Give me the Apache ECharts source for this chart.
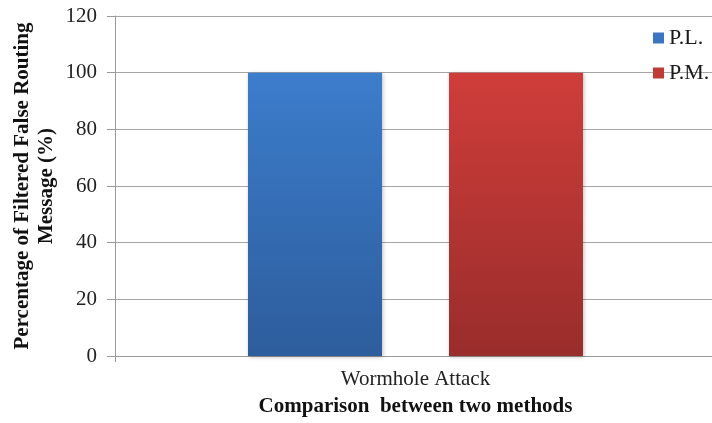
<!DOCTYPE html>
<html>
<head>
<meta charset="utf-8">
<script src="https://cdn.jsdelivr.net/npm/echarts@6/dist/echarts.min.js"></script>
<style>
  html, body { margin: 0; padding: 0; background: #fff; }
  #chart { width: 712px; height: 423px; }
</style>
</head>
<body>
<div id="chart"></div>
<script>
// Filtered false routing messages per method
const categories = ['Wormhole Attack'];
const seriesNames = ['P.L.', 'P.M.'];
const plValues = [100];
const pmValues = [100];
const yTicks = { min: 0, max: 120, interval: 20 };

const serif = '"Liberation Serif", "Times New Roman", serif';

function grad(top, bottom) {
  return new echarts.graphic.LinearGradient(0, 0, 0, 1, [
    { offset: 0, color: top },
    { offset: 1, color: bottom }
  ]);
}

const chart = echarts.init(document.getElementById('chart'), null, { renderer: 'canvas' });
chart.setOption({
  animation: false,
  backgroundColor: '#ffffff',
  grid: { left: 115, right: -4, top: 16, bottom: 67, containLabel: false, outerBoundsMode: 'none' },
  legend: {
    orient: 'vertical',
    left: 653,
    top: 27,
    padding: 0,
    itemWidth: 11,
    itemHeight: 11,
    itemGap: 13,
    icon: 'rect',
    textStyle: { fontFamily: serif, fontSize: 22, color: '#1a1a1a', lineHeight: 22 },
    data: [
      { name: seriesNames[0], itemStyle: { color: '#3a74c2' } },
      { name: seriesNames[1], itemStyle: { color: '#c23a35' } }
    ]
  },
  xAxis: {
    type: 'category',
    data: categories,
    name: 'Comparison  between two methods',
    nameLocation: 'middle',
    nameGap: 40,
    nameMoveOverlap: false,
    nameTextStyle: { fontFamily: serif, fontSize: 21, fontWeight: 'bold', color: '#111' },
    axisLine: { lineStyle: { color: '#9a9a9a', width: 1 } },
    axisTick: { show: true, length: 6, lineStyle: { color: '#9a9a9a' } },
    axisLabel: { fontFamily: serif, fontSize: 21, color: '#222', margin: 13 }
  },
  yAxis: {
    type: 'value',
    min: yTicks.min,
    max: yTicks.max,
    interval: yTicks.interval,
    name: 'Percentage of Filtered False Routing\nMessage (%)',
    nameLocation: 'middle',
    nameRotate: 90,
    nameGap: 56,
    nameMoveOverlap: false,
    nameTextStyle: { fontFamily: serif, fontSize: 21, fontWeight: 'bold', color: '#111', lineHeight: 24, align: 'center' },
    axisLine: { show: true, lineStyle: { color: '#9a9a9a', width: 1 } },
    axisTick: { show: true, length: 8, lineStyle: { color: '#9a9a9a' } },
    axisLabel: { fontFamily: serif, fontSize: 21, color: '#222', margin: 18 },
    splitLine: { show: true, lineStyle: { color: '#a6a6a6', width: 1 } }
  },
  series: [
    {
      name: seriesNames[0],
      type: 'bar',
      data: plValues,
      barWidth: 134,
      barGap: '50%',
      itemStyle: {
        color: grad('#3c7dcc', '#2d5d9c'),
        shadowColor: 'rgba(0,0,0,0.25)',
        shadowBlur: 4,
        shadowOffsetX: 1,
        shadowOffsetY: 1
      }
    },
    {
      name: seriesNames[1],
      type: 'bar',
      data: pmValues,
      barWidth: 134,
      barGap: '50%',
      itemStyle: {
        color: grad('#cf3d3a', '#992d2b'),
        shadowColor: 'rgba(0,0,0,0.25)',
        shadowBlur: 4,
        shadowOffsetX: 1,
        shadowOffsetY: 1
      }
    }
  ]
});
</script>
</body>
</html>
